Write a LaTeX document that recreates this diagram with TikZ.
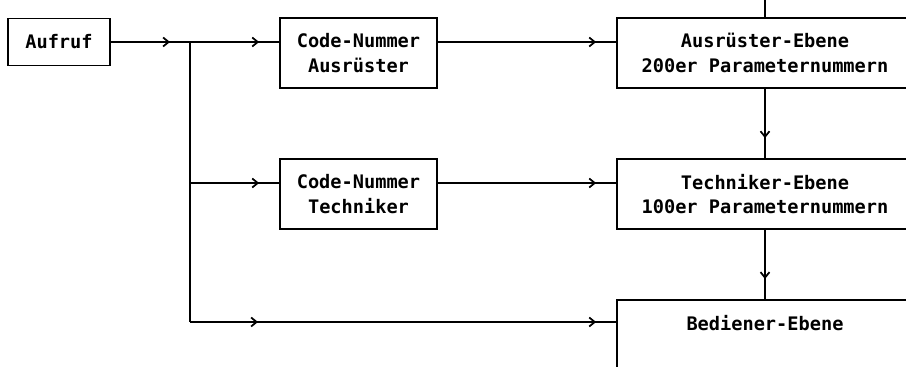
\documentclass[tikz,border=0pt]{standalone}
\usepackage{fontspec}
\setmonofont{DejaVu Sans Mono}
\usepackage{tikz}
\usetikzlibrary{positioning,arrows.meta,decorations.markings}
\tikzset{
  barb/.tip={Straight Barb[length=1.1mm, width=1.8mm, line width=1pt]},
  flow/.style={line width=1pt, postaction={decorate},
    decoration={markings, mark=at position -0.4cm with {\arrow{barb}}}},
  plain/.style={line width=1pt},
  callbox/.style={draw, line width=1pt, minimum width=2.04cm, minimum height=0.94cm, align=center},
  codebox/.style={draw, line width=1pt, minimum width=3.14cm, minimum height=1.4cm, align=center},
  levelbox/.style={draw, line width=1pt, minimum width=5.92cm, minimum height=1.4cm, align=center}
}

\begin{document}
\begin{tikzpicture}[every node/.style={font=\ttfamily\bfseries\fontsize{10.6}{13.8}\selectfont}]
      \useasboundingbox (0,0) rectangle (18.12,-7.34);
      \clip (0,0) rectangle (18.12,-7.34);

      \node[callbox] (aufruf) at (1.18,-0.84) {Aufruf};
      \coordinate (split) at (3.8,-0.84);
      \coordinate (r2) at (3.8,-3.66);
      \coordinate (r3) at (3.8,-6.44);

      \node[codebox] (code1) at (7.17,-1.06) {Code-Nummer\\Ausrüster};
      \node[codebox] (code2) at (7.17,-3.88) {Code-Nummer\\Techniker};

      \node[levelbox] (ausr) at (15.3,-1.06) {Ausrüster-Ebene\\200er Parameternummern};
      \node[levelbox] (tech) at (15.3,-3.88) {Techniker-Ebene\\100er Parameternummern};
      \node[levelbox, anchor=north] (bedien) at (15.3,-5.98) {Bediener-Ebene\\\phantom{X}};
      \coordinate (feed) at (15.3,0.2);

      \draw[flow] (aufruf) -- (split);
      \draw[plain] (split) -- (r3);
      \draw[flow] (split) -- (code1.west |- split);
      \draw[flow] (r2) -- (code2.west |- r2);
      \draw[flow, decoration={markings, mark=at position 1.36cm with {\arrow{barb}}}]
        (r3) -- (bedien.west |- r3);

      \draw[flow] (code1.east |- split) -- (ausr.west |- split);
      \draw[flow] (code2.east |- r2) -- (tech.west |- r2);

      \draw[plain] (feed) -- (ausr.north);
      \draw[flow] (ausr.south) -- (tech.north);
      \draw[flow] (tech.south) -- (bedien.north);
\end{tikzpicture}
\end{document}
